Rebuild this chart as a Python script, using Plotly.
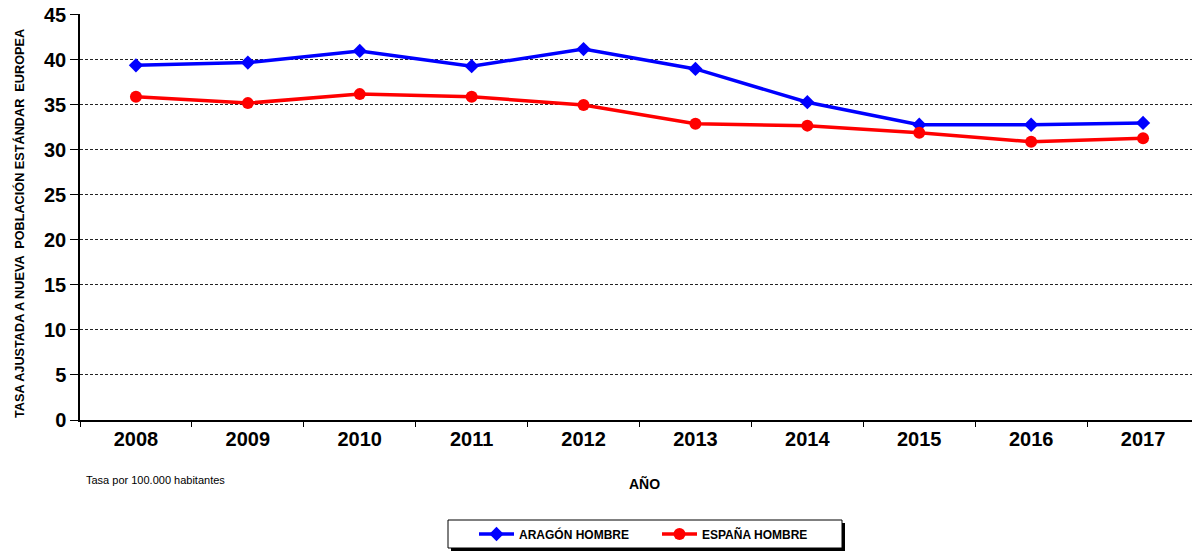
import plotly.graph_objects as go

years = ["2008", "2009", "2010", "2011", "2012", "2013", "2014", "2015", "2016", "2017"]
aragon_hombre = [39.4, 39.7, 41.0, 39.3, 41.2, 39.0, 35.3, 32.8, 32.8, 33.0]
espana_hombre = [35.9, 35.2, 36.2, 35.9, 35.0, 32.9, 32.7, 31.9, 30.9, 31.3]
y_ticks = [0, 5, 10, 15, 20, 25, 30, 35, 40, 45]

FONT = "Liberation Sans, Arial, sans-serif"

# page body has an 8px margin; work in screen coordinates
OFF = 8
W, H = 1200 - OFF, 553 - OFF
L, R, T, B = 80 - OFF, 1, 14 - OFF, 553 - 420
PW, PH = W - L - R, H - T - B


def px(x):
    return (x - OFF - L) / PW


def py(y):
    return (H - B - (y - OFF)) / PH


fig = go.Figure()
fig.add_trace(go.Scatter(
    x=years, y=aragon_hombre, name="ARAGÓN HOMBRE", mode="lines+markers",
    line=dict(color="#0000FF", width=3.5),
    marker=dict(symbol="diamond", size=11, color="#0000FF"),
))
fig.add_trace(go.Scatter(
    x=years, y=espana_hombre, name="ESPAÑA HOMBRE", mode="lines+markers",
    line=dict(color="#FF0000", width=3.5),
    marker=dict(symbol="circle", size=12, color="#FF0000"),
))

# legend frame with shadow
fig.add_shape(type="rect", xref="paper", yref="paper",
              x0=px(451), x1=px(845), y0=py(551), y1=py(523),
              fillcolor="black", line=dict(width=0))
fig.add_shape(type="rect", xref="paper", yref="paper",
              x0=px(448), x1=px(842), y0=py(548), y1=py(520),
              fillcolor="white", line=dict(color="black", width=1))

fig.update_layout(
    width=W, height=H,
    margin=dict(l=L, r=R, t=T, b=B, autoexpand=False),
    paper_bgcolor="white", plot_bgcolor="white",
    font=dict(family=FONT, color="black"),
    showlegend=True,
    legend=dict(
        orientation="h", x=px(474), xanchor="left", y=py(534), yanchor="middle",
        borderwidth=0, bgcolor="rgba(0,0,0,0)",
        font=dict(size=12, family=FONT, weight="bold"),
        itemwidth=35, entrywidthmode="pixels", entrywidth=133,
    ),
    xaxis=dict(
        type="category", tickson="boundaries", ticks="outside", ticklen=5,
        tickcolor="black", showline=True, linecolor="black", linewidth=1.5,
        showgrid=False, range=[-0.5, 9.5],
        tickfont=dict(size=20, family=FONT, weight="bold"),
    ),
    yaxis=dict(
        range=[0, 45.1], tickvals=y_ticks, ticks="outside", ticklen=8,
        tickcolor="black", showline=True, linecolor="black", linewidth=1.5,
        showgrid=True, gridcolor="#222222", griddash="3px,2px", gridwidth=1,
        zeroline=False, ticklabeloverflow="allow",
        tickfont=dict(size=20, family=FONT, weight="bold"),
    ),
    annotations=[
        dict(text="Tasa por 100.000 habitantes", xref="paper", yref="paper",
             x=px(84), y=py(480), xanchor="left", yanchor="middle", showarrow=False,
             font=dict(size=11, family=FONT)),
        dict(text="AÑO", xref="paper", yref="paper",
             x=px(644), y=py(483), xanchor="center", yanchor="middle", showarrow=False,
             font=dict(size=14, family=FONT, weight="bold")),
        dict(text="TASA AJUSTADA A NUEVA  POBLACIÓN ESTÁNDAR  EUROPEA",
             xref="paper", yref="paper", x=px(20), y=py(224),
             xanchor="center", yanchor="middle", textangle=-90, showarrow=False,
             font=dict(size=12.7, family=FONT, weight="bold")),
    ],
)

fig.write_html("out.html")
